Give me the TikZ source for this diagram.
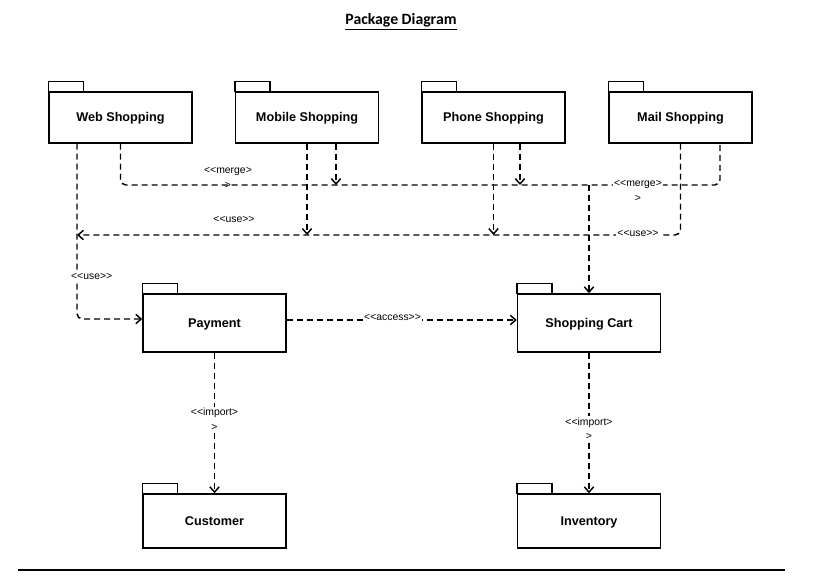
\documentclass[tikz,border=0pt]{standalone}
\usepackage{fontspec}
\setmainfont{Liberation Sans}[Ligatures=TeXOff]
\newfontfamily\titlefont{Carlito}
\usetikzlibrary{arrows.meta, calc}

\begin{document}
\begin{tikzpicture}[x=0.75pt, y=-0.75pt,
	package/.style = {draw, line width=1.1pt, minimum width=107.25pt,
		text height=7pt, text depth=1pt,
		font=\fontsize{9.5}{11}\selectfont\bfseries},
	link/.style = {line width=1.1pt, dash pattern=on 4.5pt off 3pt},
	dep/.style = {link, -{Straight Barb[length=4pt, width=7pt]}},
	stereo/.style = {font=\fontsize{7.8}{11}\selectfont, inner sep=1pt, align=center}]

\useasboundingbox (0, 0) rectangle (817, 582);

\node (title) at (401, 22) {\titlefont\fontsize{11.8}{13}\selectfont\bfseries\underline{Package Diagram}};

% packages
\node[package, minimum height=38.25pt] (web) at (120.5, 117.5) {Web Shopping};
\node[package, minimum height=38.25pt] (mobile) at (307, 117.5) {Mobile Shopping};
\node[package, minimum height=38.25pt] (phone) at (493.5, 117.5) {Phone Shopping};
\node[package, minimum height=38.25pt] (mail) at (680.5, 117.5) {Mail Shopping};
\node[package, minimum height=43.5pt] (payment) at (214.5, 323) {Payment};
\node[package, minimum height=43.5pt] (cart) at (589, 323) {Shopping Cart};
\node[package, minimum height=40.5pt] (customer) at (214.5, 521) {Customer};
\node[package, minimum height=40.5pt] (inventory) at (589, 521) {Inventory};

\foreach \n in {web, mobile, phone, mail, payment, cart, customer, inventory}
	\draw[line width=1.1pt] (\n.north west) rectangle ++(35, -10);

\coordinate (webU) at ($(web.south)+(-43.5, 0)$);
\coordinate (mobM) at ($(mobile.south)+(29, 0)$);
\coordinate (phoM) at ($(phone.south)+(26.5, 0)$);
\coordinate (mailM) at ($(mail.south)+(39.5, 0)$);
\coordinate (mbus) at (0, 185);
\coordinate (ubus) at (0, 235);

% merge
\draw[link, rounded corners=4pt] (web.south) |- (mbus -| mailM) -- (mailM);
\draw[dep] (mobM) -- (mobM |- mbus);
\draw[dep] (phoM) -- (phoM |- mbus);
\draw[dep] (cart.north |- mbus) -- (cart.north);
\node[stereo] (mergeA) at (228, 178) {<<merge>\\>};
\node[stereo, fill=white] (mergeB) at (638, 191) {<<merge>\\>};

% use
\draw[dep, rounded corners=4pt] (mail.south) |- (ubus -| webU);
\draw[dep] (mobile.south) -- (mobile.south |- ubus);
\draw[dep] (phone.south) -- (phone.south |- ubus);
\node[stereo] (useA) at (234, 220) {<<use>>};
\node[stereo, fill=white] (useB) at (638, 234) {<<use>>};

\draw[dep, rounded corners=4pt] (webU) |- ($(payment.west)+(0, -4)$)
	node[stereo, fill=white, pos=0.38, xshift=11pt] {<<use>>};

% access, import
\draw[dep] ($(payment.east)+(0, -3)$) -- ($(cart.west)+(0, -3)$)
	node[stereo, pos=0.46, above=-2pt, fill=white] {<<access>>};
\draw[dep] (payment.south) -- (customer.north)
	node[stereo, pos=0.475, fill=white] {<<import>\\>};
\draw[dep] (cart.south) -- (inventory.north)
	node[stereo, pos=0.54, fill=white] {<<import>\\>};

\draw[line width=1.5pt] (18, 570) -- (785, 570);

\end{tikzpicture}
\end{document}
